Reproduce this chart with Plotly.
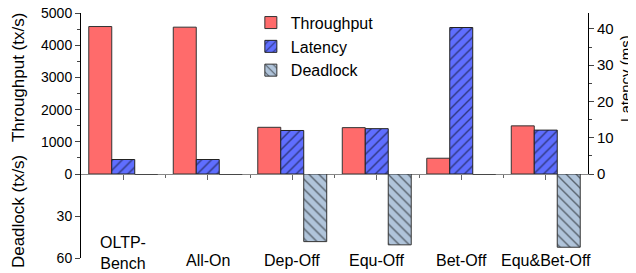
import plotly.graph_objects as go

categories = ["OLTP-<br>Bench", "All-On", "Dep-Off", "Equ-Off", "Bet-Off", "Equ&Bet-Off"]
throughput = [4580, 4560, 1450, 1440, 490, 1495]
latency = [4.0, 4.0, 12.0, 12.5, 40.4, 12.1]
deadlock = [0, 0, 48.3, 50.6, 0, 52.3]
throughput_ticks = [0, 1000, 2000, 3000, 4000, 5000]
latency_ticks = [0, 10, 20, 30, 40]
deadlock_ticks = [30, 60]

xpos = list(range(len(categories)))
FONT = "Liberation Sans, Arial, sans-serif"
W = 0.272
split = 84 / 245
PLOT_H = 245.0

fig = go.Figure()
fig.add_trace(go.Bar(
    x=xpos, y=throughput, name="Throughput", xaxis="x", yaxis="y",
    width=W, offset=-1.5 * W,
    marker=dict(color="#FF6B6B", line=dict(color="#333333", width=1)),
))
fig.add_trace(go.Bar(
    x=xpos, y=latency, name="Latency", xaxis="x", yaxis="y2",
    width=W, offset=-0.5 * W,
    marker=dict(color="#5F6EFF", line=dict(color="#222222", width=1),
                pattern=dict(shape="/", fgcolor="#000000", size=7, solidity=0.2)),
))
fig.add_trace(go.Bar(
    x=xpos, y=deadlock, name="Deadlock", xaxis="x", yaxis="y3",
    width=W, offset=0.5 * W,
    marker=dict(color="#B0C4DA", line=dict(color="#333333", width=1),
                pattern=dict(shape="\\", fgcolor="#000000", size=7, solidity=0.2)),
))

axfont = dict(family=FONT, size=14, color="#000000")
rfont = dict(family=FONT, size=15, color="#000000")
# page body has an 8px default margin, so the figure is 8px smaller
fig.update_layout(
    width=628, height=265,
    margin=dict(l=73, r=48, t=5, b=15, autoexpand=False),
    plot_bgcolor="white", paper_bgcolor="white",
    font=dict(family=FONT, color="#000000"),
    barmode="overlay",
    showlegend=True,
    legend=dict(x=0.335, y=1.03, xanchor="left", yanchor="top",
                font=dict(family=FONT, size=16, color="#000000"),
                bgcolor="rgba(0,0,0,0)", tracegroupgap=0),
    xaxis=dict(domain=[0, 1], anchor="y", range=[-0.5, len(categories) - 0.5],
               tickvals=xpos, showticklabels=False,
               showline=True, linecolor="#888888", linewidth=1,
               ticks="outside", ticklen=5, tickcolor="#666666",
               minor=dict(tickvals=[i + 0.5 for i in xpos[:-1]], ticks="outside",
                          ticklen=3, tickcolor="#666666"),
               showgrid=False, zeroline=False, fixedrange=True),
    yaxis=dict(domain=[split, 1], anchor="x", range=[0, 5000],
               tickvals=throughput_ticks, tickfont=axfont, ticklabeloverflow="allow",
               showline=True, linecolor="#000000", linewidth=1,
               ticks="outside", ticklen=5,
               minor=dict(dtick=500, ticks="outside", ticklen=3),
               showgrid=False, zeroline=False),
    yaxis2=dict(overlaying="y", side="right", anchor="x", range=[0, 44.4],
                tickvals=latency_ticks, tickfont=rfont, ticklabeloverflow="allow",
                showline=True, linecolor="#000000", linewidth=1,
                ticks="outside", ticklen=5,
                minor=dict(dtick=5, ticks="outside", ticklen=3),
                showgrid=False, zeroline=False),
    yaxis3=dict(domain=[0, split], anchor="x", range=[60, 0],
                tickvals=deadlock_ticks, tickfont=axfont, ticklabeloverflow="allow",
                showline=True, linecolor="#000000", linewidth=1,
                ticks="outside", ticklen=5,
                showgrid=False, zeroline=False),
)

ann = []
for xi, lab in zip(xpos, categories):
    nlines = lab.count("<br>") + 1
    ycenter_px = 3 - 8 * (nlines - 1)  # px below plot bottom
    ann.append(dict(x=xi, y=-ycenter_px / PLOT_H, xref="x", yref="paper", text=lab,
                    showarrow=False, xanchor="center", yanchor="middle",
                    font=dict(family=FONT, size=16, color="#000000")))
ann.append(dict(x=-0.122, y=0.735, xref="paper", yref="paper", text="Throughput (tx/s)",
                textangle=-90, showarrow=False, xanchor="center", yanchor="middle",
                font=dict(family=FONT, size=17, color="#000000")))
ann.append(dict(x=-0.122, y=0.188, xref="paper", yref="paper", text="Deadlock (tx/s)",
                textangle=-90, showarrow=False, xanchor="center", yanchor="middle",
                font=dict(family=FONT, size=17, color="#000000")))
ann.append(dict(x=1.074, y=0.733, xref="paper", yref="paper", text="Latency (ms)",
                textangle=-90, showarrow=False, xanchor="center", yanchor="middle",
                font=dict(family=FONT, size=15, color="#000000")))
fig.update_layout(annotations=ann)

fig.write_html("out.html")
